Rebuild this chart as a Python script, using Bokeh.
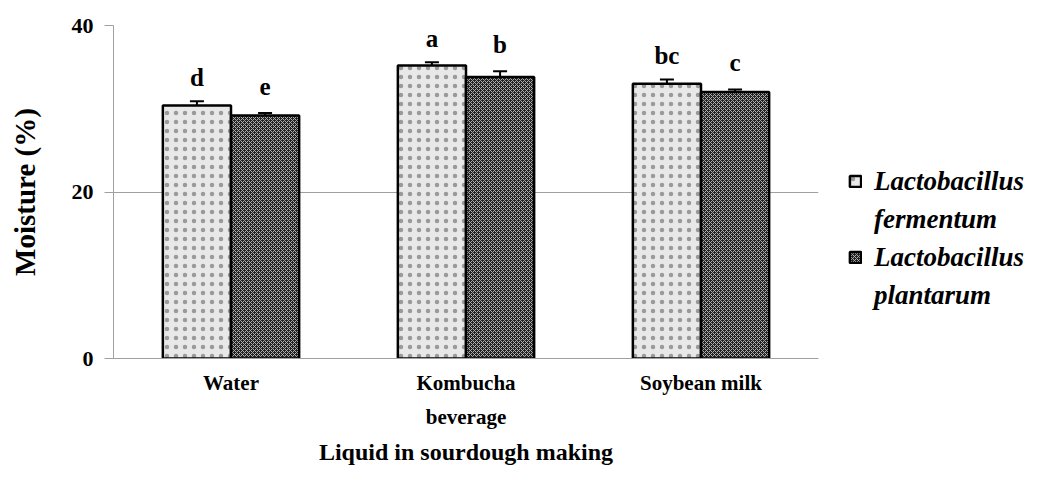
from bokeh.plotting import figure
from bokeh.layouts import row
from bokeh.models import (FactorRange, Range1d, Whisker, ColumnDataSource, Legend,
                          LegendItem, TeeHead, FixedTicker)
from bokeh.transform import dodge
from bokeh.core.properties import value
from bokeh.embed import file_html
from bokeh.resources import INLINE

categories = ["Water", "Kombucha\nbeverage", "Soybean milk"]
fermentum = [30.4, 35.2, 33.0]
fermentum_err = [0.5, 0.4, 0.5]
plantarum = [29.2, 33.8, 32.0]
plantarum_err = [0.3, 0.7, 0.3]
fermentum_letters = ["d", "a", "bc"]
plantarum_letters = ["e", "b", "c"]
genus = "Lactobacillus"
species = ["fermentum", "plantarum"]
y_ticks = [0, 20, 40]

FONT = "Liberation Serif"
F_GAP = 2.85
P_GAP = 3.2

F_STYLE = dict(fill_color="#e8e8e8", hatch_pattern="dot", hatch_color="#9a9a9a",
               hatch_scale=9, hatch_weight=1.1, line_color="black", line_width=2.5)
P_STYLE = dict(fill_color="#222222", hatch_pattern="diagonal_cross", hatch_color="#b0b0b0",
               hatch_scale=4, hatch_weight=1, line_color="black", line_width=2.5)

src = ColumnDataSource(dict(
    cats=categories,
    f=fermentum,
    f_up=[v + e for v, e in zip(fermentum, fermentum_err)],
    f_lo=[v - e for v, e in zip(fermentum, fermentum_err)],
    f_lab_y=[v + e + F_GAP for v, e in zip(fermentum, fermentum_err)],
    f_let=fermentum_letters,
    p=plantarum,
    p_up=[v + e for v, e in zip(plantarum, plantarum_err)],
    p_lo=[v - e for v, e in zip(plantarum, plantarum_err)],
    p_lab_y=[v + e + P_GAP for v, e in zip(plantarum, plantarum_err)],
    p_let=plantarum_letters,
))

p = figure(x_range=FactorRange(*categories, range_padding=0),
           y_range=Range1d(0, 40),
           width=830, height=468, output_backend="svg", toolbar_location=None,
           min_border_left=113, min_border_right=12, min_border_top=25,
           min_border_bottom=109)
p.outline_line_color = None
p.background_fill_color = "white"

W = 0.29
OFF = 0.145

p.vbar(x=dodge("cats", -OFF, range=p.x_range), top="f", width=W, source=src, **F_STYLE)
p.vbar(x=dodge("cats", OFF, range=p.x_range), top="p", width=W, source=src, **P_STYLE)

for key, off in (("f", -OFF), ("p", OFF)):
    w = Whisker(base=dodge("cats", off, range=p.x_range), upper=key + "_up",
                lower=key + "_lo", source=src, line_color="black", line_width=2,
                upper_head=TeeHead(size=14, line_color="black", line_width=2),
                lower_head=TeeHead(size=14, line_color="black", line_width=2))
    p.add_layout(w)
    p.text(x=dodge("cats", off, range=p.x_range), y=key + "_lab_y", text=key + "_let",
           source=src, text_font=value(FONT), text_font_style="bold",
           text_font_size="25px", text_align="center", text_baseline="alphabetic",
           text_color="black")

# axes
p.yaxis.ticker = FixedTicker(ticks=y_ticks)
p.yaxis.axis_line_color = "#a0a0a0"
p.yaxis.major_tick_line_color = "#a0a0a0"
p.yaxis.major_tick_out = 9
p.yaxis.major_tick_in = 0
p.yaxis.minor_tick_line_color = None
p.yaxis.major_label_text_font = FONT
p.yaxis.major_label_text_font_style = "bold"
p.yaxis.major_label_text_font_size = "22px"
p.yaxis.major_label_text_color = "black"
p.yaxis.major_label_standoff = 11
p.yaxis.axis_label = "Moisture (%)"
p.yaxis.axis_label_text_font = FONT
p.yaxis.axis_label_text_font_style = "bold"
p.yaxis.axis_label_text_font_size = "29px"
p.yaxis.axis_label_text_color = "black"
p.yaxis.axis_label_standoff = 28

p.xaxis.axis_line_color = "#a0a0a0"
p.xaxis.major_tick_line_color = None
p.xaxis.minor_tick_line_color = None
p.xaxis.major_tick_out = 0
p.xaxis.major_tick_in = 0
p.xaxis.major_label_text_font = FONT
p.xaxis.major_label_text_font_style = "bold"
p.xaxis.major_label_text_font_size = "21px"
p.xaxis.major_label_text_line_height = 1.45
p.xaxis.major_label_text_color = "black"
p.xaxis.major_label_standoff = 12
p.xaxis.axis_label = "Liquid in sourdough making"
p.xaxis.axis_label_text_font = FONT
p.xaxis.axis_label_text_font_style = "bold"
p.xaxis.axis_label_text_font_size = "24px"
p.xaxis.axis_label_text_color = "black"
p.xaxis.axis_label_standoff = 7

p.xgrid.grid_line_color = None
p.ygrid.grid_line_color = "#a0a0a0"
p.ygrid.grid_line_width = 1

# legend panel (separate figure so the legend is not clipped by the chart frame)
lp = figure(width=198, height=468, output_backend="svg", toolbar_location=None,
            x_range=Range1d(0, 1), y_range=Range1d(0, 1),
            x_axis_type=None, y_axis_type=None,
            min_border=0, min_border_left=0, min_border_right=0,
            min_border_top=0, min_border_bottom=0)
lp.grid.visible = False
lp.outline_line_color = None

# proxies without drawable geometry that only carry the legend swatch styles
proxy = ColumnDataSource(dict(x=[float("nan")], top=[float("nan")]))
lf = lp.vbar(x="x", top="top", width=0.1, source=proxy, **F_STYLE)
lpl = lp.vbar(x="x", top="top", width=0.1, source=proxy, **P_STYLE)
blank = lp.scatter(x="x", y="top", source=proxy, fill_alpha=0, line_alpha=0)

legend = Legend(items=[LegendItem(label=genus, renderers=[lf]),
                       LegendItem(label=species[0], renderers=[blank]),
                       LegendItem(label=genus, renderers=[lpl]),
                       LegendItem(label=species[1], renderers=[blank])],
                location=(18, 44), padding=0, margin=0, spacing=0,
                border_line_color=None, background_fill_alpha=0,
                glyph_width=14, glyph_height=14, label_height=38,
                label_standoff=12,
                label_text_font=FONT, label_text_font_style="bold italic",
                label_text_font_size="27px",
                label_text_color="black")
lp.add_layout(legend, "center")

layout = row(p, lp, spacing=0)
open("out.html", "w").write(file_html(layout, INLINE))
